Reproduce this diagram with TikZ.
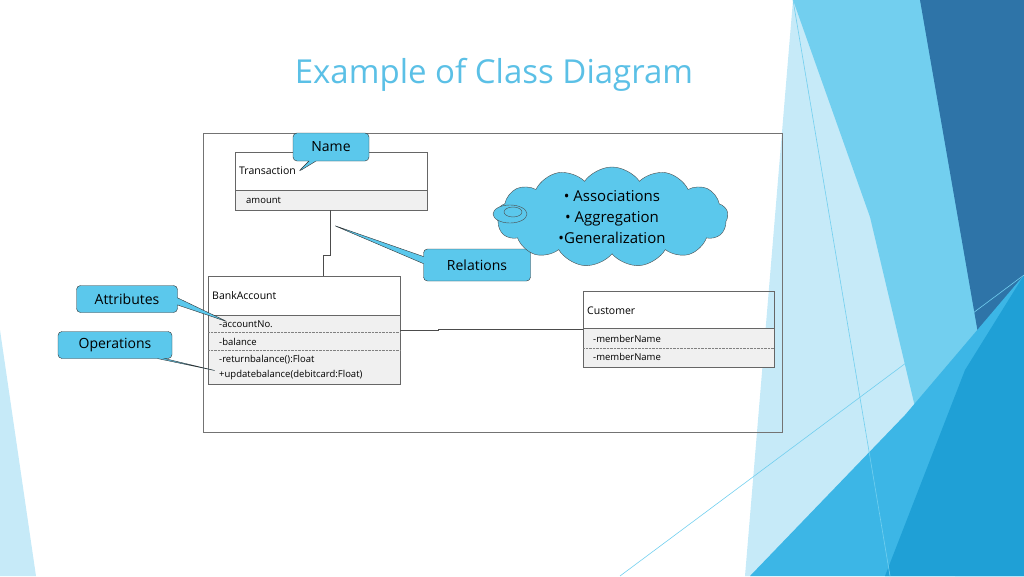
\documentclass[tikz,border=0pt]{standalone}
\usepackage{fontspec}
\setmainfont{Open Sans}
\usetikzlibrary{shapes.callouts,shapes.symbols}
\definecolor{ttl}{HTML}{5BC0E6}
\definecolor{cfill}{HTML}{5BC8EC}
\definecolor{pale}{HTML}{C6EAF8}
\definecolor{mid}{HTML}{72CFEF}
\definecolor{dark}{HTML}{2E74A8}
\definecolor{brt}{HTML}{3CB6E6}
\definecolor{deep}{HTML}{1FA0D6}
\definecolor{bx}{HTML}{F0F0F0}
\tikzset{
 callbox/.style={rectangle callout,rounded corners=4pt,draw=black!80,fill=cfill,font=\fontsize{14}{16}\selectfont,inner sep=0pt},
 cls/.style={draw=black!60,line width=0.8pt},
 small/.style={font=\fontsize{10.5}{12}\selectfont,anchor=west,inner sep=0pt},
}
\begin{document}
\begin{tikzpicture}[x=1pt,y=-1pt]
\useasboundingbox (0,0) rectangle (1024,576);
% background facets
\fill[pale] (793,0) -- (1024,0) -- (1024,576) -- (745,576) -- cycle;
\fill[mid] (793,0) -- (1024,0) -- (1024,576) -- (955,576) -- (870,217) -- cycle;
\fill[dark] (920,0) -- (1024,0) -- (1024,275) -- (980,345) -- cycle;
\fill[brt] (1024,275) -- (1024,576) -- (750,576) -- (905,415) -- cycle;
\fill[deep] (1024,275) -- (1024,576) -- (885,576) -- (965,370) -- cycle;
\fill[pale] (0,330) -- (36,576) -- (0,576) -- cycle;
\draw[mid,line width=0.6pt] (793,0) -- (890,576);
\draw[mid,line width=0.6pt] (620,576) -- (1024,275);
% title
\node[text=ttl,font=\fontsize{33}{38}\selectfont] (title) at (494,75) {Example of Class Diagram};
% frame
\draw[black!55,line width=0.9pt] (203,133) rectangle (782,432);
% Transaction
\fill[bx] (235,190) rectangle (427,210);
\draw[cls] (235,152) rectangle (427,210); \draw[cls] (235,190) -- (427,190);
\node[small] (tr) at (239,171) {Transaction};
\node[small,font=\fontsize{9.5}{11}\selectfont] (am) at (246,200) {amount};
% BankAccount
\fill[bx] (208,315) rectangle (400,384);
\draw[cls] (208,276) rectangle (400,384); \draw[cls] (208,315) -- (400,315);
\draw[black!50,densely dotted] (208,332) -- (400,332);
\draw[black!50,densely dotted] (208,350) -- (400,350);
\node[small] (ba) at (212,296) {BankAccount};
\node[small,font=\fontsize{9.5}{11}\selectfont] (acc) at (219,324) {-accountNo.};
\node[small,font=\fontsize{9.5}{11}\selectfont] (bal) at (219,342) {-balance};
\node[small,font=\fontsize{9.5}{11}\selectfont] (rb) at (219,360) {-returnbalance():Float};
\node[small,font=\fontsize{9.5}{11}\selectfont] (ub) at (219,375) {+updatebalance(debitcard:Float)};
% Customer
\fill[bx] (583,328) rectangle (774,367);
\draw[cls] (583,291) rectangle (774,367); \draw[cls] (583,328) -- (774,328);
\draw[black!50,densely dotted] (583,348) -- (774,348);
\node[small] (cu) at (587,311) {Customer};
\node[small,font=\fontsize{9.5}{11}\selectfont] (m1) at (593,339) {-memberName};
\node[small,font=\fontsize{9.5}{11}\selectfont] (m2) at (593,357) {-memberName};
% connectors
\coordinate (t1) at (330,210); \coordinate (b1) at (323,276);
\draw[black!70] (t1) -- (330,255) -- (323,255) -- (b1);
\coordinate (b2) at (400,330); \coordinate (c2) at (583,329);
\draw[black!70] (b2) -- (438,330) -- (438,329) -- (c2);
% callouts
\node[callbox,minimum width=76pt,minimum height=28pt,callout absolute pointer={(298,172)}] (nm) at (331,147) {Name};
\node[callbox,minimum width=107pt,minimum height=32pt,callout absolute pointer={(333,225)}] (rel) at (477,265) {Relations};
\node[callbox,minimum width=101pt,minimum height=27pt,callout absolute pointer={(228,322)}] (att) at (127,299) {Attributes};
\node[callbox,minimum width=114pt,minimum height=27pt,callout absolute pointer={(217,371)}] (ops) at (115,345) {Operations};
% cloud
\node[cloud,cloud puffs=13,cloud puff arc=110,aspect=2.3,draw=black!70,fill=cfill,minimum width=232pt,minimum height=100pt,align=center,font=\fontsize{15}{21}\selectfont,inner sep=0pt] (cl) at (612,217) {• Associations\\ • Aggregation\\ •Generalization};
\draw[black!70,fill=cfill] (510,214) ellipse (17pt and 9pt);
\draw[black!70,fill=cfill] (513,212) ellipse (9pt and 5pt);
\end{tikzpicture}
\end{document}
